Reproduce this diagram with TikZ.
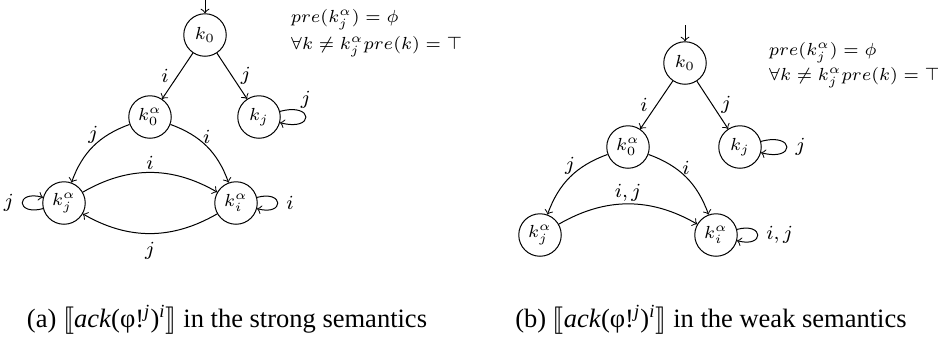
\documentclass[tikz,border=0pt]{standalone}
\usepackage{amsmath, amssymb}
\usepackage{stmaryrd}
\usepackage{fontspec}
\newfontfamily\capfont{Liberation Serif}
\usetikzlibrary{arrows, arrows.meta, positioning}
\tikzset{
	kstate/.style={circle, draw, minimum size=17pt, inner sep=0pt, font=\scriptsize},
	trans/.style={draw, ->},
	lbl/.style={font=\footnotesize},
	arclbl/.style={lbl, inner sep=1pt},
	small loop/.style={min distance=4mm},
	cond/.style={anchor=west, font=\fontsize{7.1}{9}\selectfont},
	capt/.style={font=\capfont\fontsize{10.6}{12}\selectfont}
}

\begin{document}
\begin{tikzpicture}[x=0.4pt, y=0.4pt, >=to]
	\useasboundingbox (0,0) rectangle (938,-342);
	% Strong semantics
	\node[kstate] (A-k0) at (205,-35) {$k_0$};
	\node[kstate] (A-k0a) at (150,-117) {$k_0^\alpha$};
	\node[kstate] (A-kj) at (259,-117) {$k_j$};
	\node[kstate] (A-kja) at (64,-203) {$k_j^\alpha$};
	\node[kstate] (A-kia) at (236,-203) {$k_i^\alpha$};
	\coordinate (A-init) at (205,0);
	\node[cond] (A-pre) at (282,-20) {$pre(k_j^\alpha) = \phi$};
	\node[cond] (A-all) at (282,-47) {$\forall k \neq k_j^\alpha pre(k) = \top$};
	\node[capt] (A-cap) at (227,-320) {(a) $\llbracket$\textit{ack}(φ!\textsuperscript{\textit{j}})\textsuperscript{\textit{i}}$\rrbracket$ in the strong semantics};

	% Connections
	\draw[trans] (A-init) -- (A-k0);
	\draw[trans] (A-k0) -- node[lbl, left] {$i$} (A-k0a);
	\draw[trans] (A-k0) -- node[lbl, right] {$j$} (A-kj);
	\draw[trans] (A-kj) to[loop right] node[lbl, above] {$j$} (A-kj);
	\draw[trans] (A-k0a) to[bend right=25] node[arclbl, above] {$j$} (A-kja);
	\draw[trans] (A-k0a) to[bend left=25] node[arclbl, above] {$i$} (A-kia);
	\draw[trans] (A-kja) to[bend left=30] node[arclbl, above] {$i$} (A-kia);
	\draw[trans] (A-kia) to[bend left=30] node[lbl, below] {$j$} (A-kja);
	\draw[trans] (A-kja) to[loop left, small loop] node[lbl, left] {$j$} (A-kja);
	\draw[trans] (A-kia) to[loop right, small loop] node[lbl, right] {$i$} (A-kia);

	% Weak semantics
	\node[kstate] (B-k0) at (685,-63) {$k_0$};
	\node[kstate] (B-k0a) at (628,-147) {$k_0^\alpha$};
	\node[kstate] (B-kj) at (740,-147) {$k_j$};
	\node[kstate] (B-kja) at (540,-235) {$k_j^\alpha$};
	\node[kstate] (B-kia) at (716,-235) {$k_i^\alpha$};
	\coordinate (B-init) at (685,-25);
	\node[cond] (B-pre) at (760,-53) {$pre(k_j^\alpha) = \phi$};
	\node[cond] (B-all) at (760,-78) {$\forall k \neq k_j^\alpha pre(k) = \top$};
	\node[capt] (B-cap) at (711,-320) {(b) $\llbracket$\textit{ack}(φ!\textsuperscript{\textit{j}})\textsuperscript{\textit{i}}$\rrbracket$ in the weak semantics};

	% Connections
	\draw[trans] (B-init) -- (B-k0);
	\draw[trans] (B-k0) -- node[lbl, left] {$i$} (B-k0a);
	\draw[trans] (B-k0) -- node[lbl, right] {$j$} (B-kj);
	\draw[trans] (B-kj) to[loop right] node[lbl, right] {$j$} (B-kj);
	\draw[trans] (B-k0a) to[bend right=25] node[arclbl, above] {$j$} (B-kja);
	\draw[trans] (B-k0a) to[bend left=25] node[arclbl, above] {$i$} (B-kia);
	\draw[trans] (B-kja) to[bend left=30] node[arclbl, above] {$i,j$} (B-kia);
	\draw[trans] (B-kia) to[loop right, small loop] node[lbl, right] {$i,j$} (B-kia);
\end{tikzpicture}
\end{document}
